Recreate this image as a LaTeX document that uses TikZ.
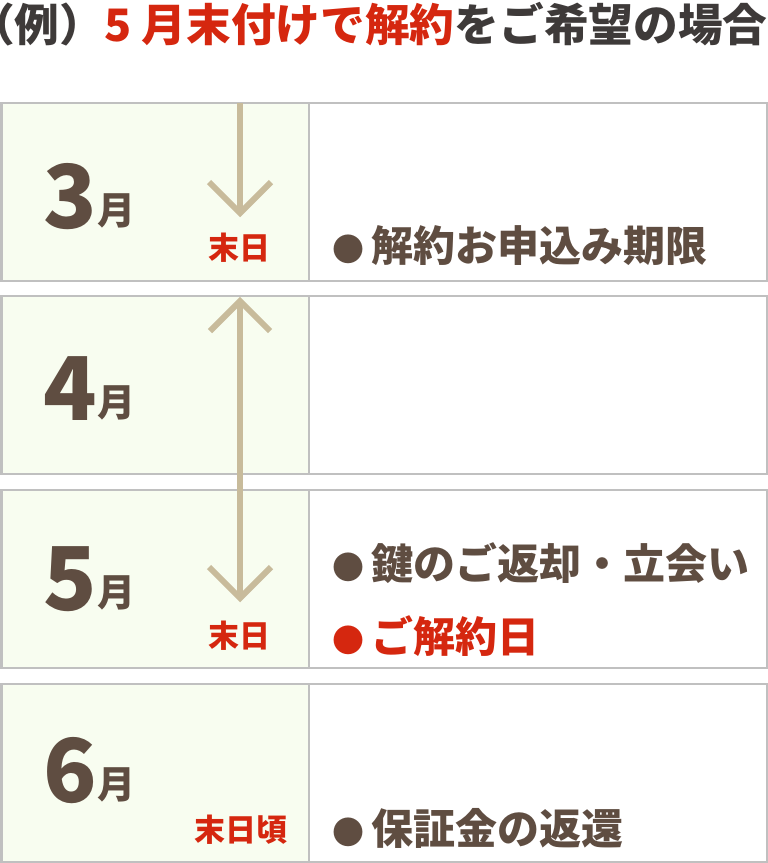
\documentclass[tikz,border=0pt]{standalone}
\usepackage{fontspec}
\setmainfont{Noto Sans CJK JP}
\definecolor{brn}{HTML}{5F4D41}
\definecolor{akai}{HTML}{D5270F}
\definecolor{sumi}{HTML}{3E3A39}
\definecolor{waku}{HTML}{C0C0C0}
\definecolor{kusa}{HTML}{F8FDF0}
\definecolor{ya}{HTML}{C8BB9B}
\newcommand\maru{{\fontsize{32}{32}\selectfont●}}
\begin{document}
\begin{tikzpicture}[x=1pt,y=-1pt,inner sep=0pt,
    frm/.style={draw=waku,line width=2.5pt},
    arr/.style={draw=ya,line width=6pt},
    mon/.style={text=brn,font=\bfseries\fontsize{88}{88}\selectfont},
    tsuki/.style={text=brn,font=\bfseries\fontsize{38}{38}\selectfont},
    matsu/.style={text=akai,font=\bfseries\fontsize{31}{31}\selectfont},
    item/.style={text=brn,font=\bfseries\fontsize{42}{42}\selectfont,anchor=west}]
    \useasboundingbox(0,0)rectangle(768,863);
    \node[anchor=base west,text=sumi,font=\bfseries\fontsize{44.7}{44.7}\selectfont](title)at(-30,41){（例）\textcolor{akai}{5 月末付けで解約}をご希望の場合};
    \foreach\t/\m/\b in{103/3/125,296/4/124,490/5/120,684/6/118}{
        \filldraw[frm,fill=kusa](1.25,\t)rectangle(309,\t+178);
        \draw[frm](309,\t)rectangle(766.75,\t+178);
        \node[mon,anchor=base west](num\m)at(43,\t+\b){\m};
        \node[tsuki,anchor=base west](tsuki\m)at(97,\t+\b-4){月};
    }
    % arrows
    \coordinate(a1s)at(240,103);\coordinate(a1e)at(240,213);
    \coordinate(a2s)at(240,301);\coordinate(a2e)at(240,598);
    \draw[arr](a1s)--(a1e);
    \draw[arr](a1e)++(-31,-31)--(a1e)--++(31,-31);
    \draw[arr](a2s)--(a2e);
    \draw[arr](a2s)++(-30,30)--(a2s)--++(30,30);
    \draw[arr](a2e)++(-31,-31)--(a2e)--++(31,-31);
    \node[matsu](m3)at(239,248){末日};
    \node[matsu](m5)at(239,636){末日};
    \node[matsu](m6)at(241,830){末日頃};
    \node[item](it1)at(332,246){\maru\,解約お申込み期限};
    \node[item](it2)at(332,563){\maru\,鍵のご返却・立会い};
    \node[item,text=akai](it3)at(332,636){\maru\,ご解約日};
    \node[item](it4)at(332,828){\maru\,保証金の返還};
\end{tikzpicture}
\end{document}
